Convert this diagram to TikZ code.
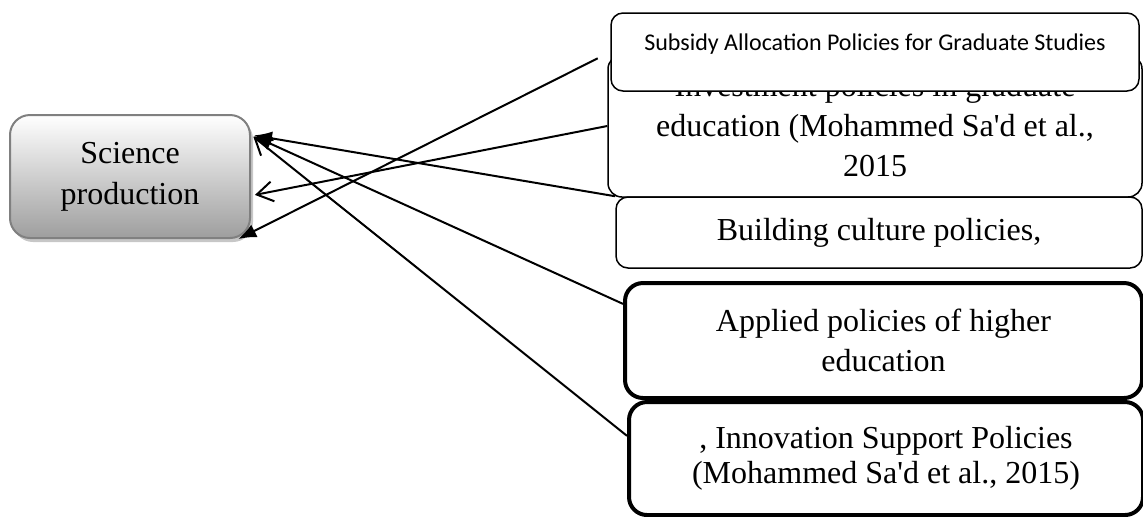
\documentclass[tikz,border=0pt]{standalone}
\usepackage{fontspec}
\setmainfont{Liberation Serif}
\newfontfamily\calibrifont{Carlito}
\usetikzlibrary{arrows.meta,shadows}

\begin{document}
\begin{tikzpicture}[x=0.5pt,y=-0.5pt,
  policy/.style={draw, fill=white, rounded corners=6pt, line width=0.75pt, align=center,
    inner sep=0pt, font=\fontsize{16}{20}\selectfont},
  thickpolicy/.style={policy, rounded corners=9pt, line width=2pt},
  link/.style={line width=1pt},
  filledtip/.style={link, -{Latex[length=9pt,width=7pt]}},
  opentip/.style={link, -{Straight Barb[length=8pt,width=10pt]}}]
\useasboundingbox (0,0) rectangle (1143,516);

\node[draw=gray, line width=1pt, rounded corners=10pt, top color=white, bottom color=black!38,
  drop shadow={shadow xshift=1.5pt, shadow yshift=-2pt, fill=black!22, opacity=1},
  minimum width=120pt, minimum height=61.5pt, align=center, inner sep=0pt,
  font=\fontsize{16}{20.5}\selectfont] (sci) at (130,176.5) {Science\\production};

\node[policy, rounded corners=7pt, minimum width=267pt, minimum height=71pt] (inv) at (875,126)
  {Investment policies in graduate\\education (Mohammed Sa\textquotesingle d et al.,\\2015};
\node[policy, font=\calibrifont\fontsize{12}{14}\selectfont, minimum width=264pt,
  text height=18.9pt, text depth=20.1pt] (sub) at (875,52)
  {Subsidy Allocation Policies for Graduate Studies};
\node[policy, minimum width=263pt, minimum height=35.5pt] (bld) at (879,232.5)
  {Building culture policies,};
\node[thickpolicy, minimum width=258.5pt, minimum height=57.5pt] (app) at (883.5,340.5)
  {Applied policies of higher\\education};
\node[thickpolicy, minimum width=257pt, minimum height=56.5pt,
  font=\fontsize{16}{17.5}\selectfont] (inn) at (886,458.5)
  {, Innovation Support Policies\\(Mohammed Sa\textquotesingle d et al., 2015)};

\draw[filledtip, shorten <=7pt] (sub.west) -- (sci.-30);
\draw[opentip, shorten >=2pt] (inv.west) -- (sci.-9);
\draw[filledtip, shorten >=1.5pt] (bld.north west) -- (sci.19);
\draw[filledtip, shorten >=1.5pt] (app.172.6) -- (sci.19);
\draw[opentip, shorten >=1.5pt] (inn.175.5) -- (sci.19);
\end{tikzpicture}
\end{document}
